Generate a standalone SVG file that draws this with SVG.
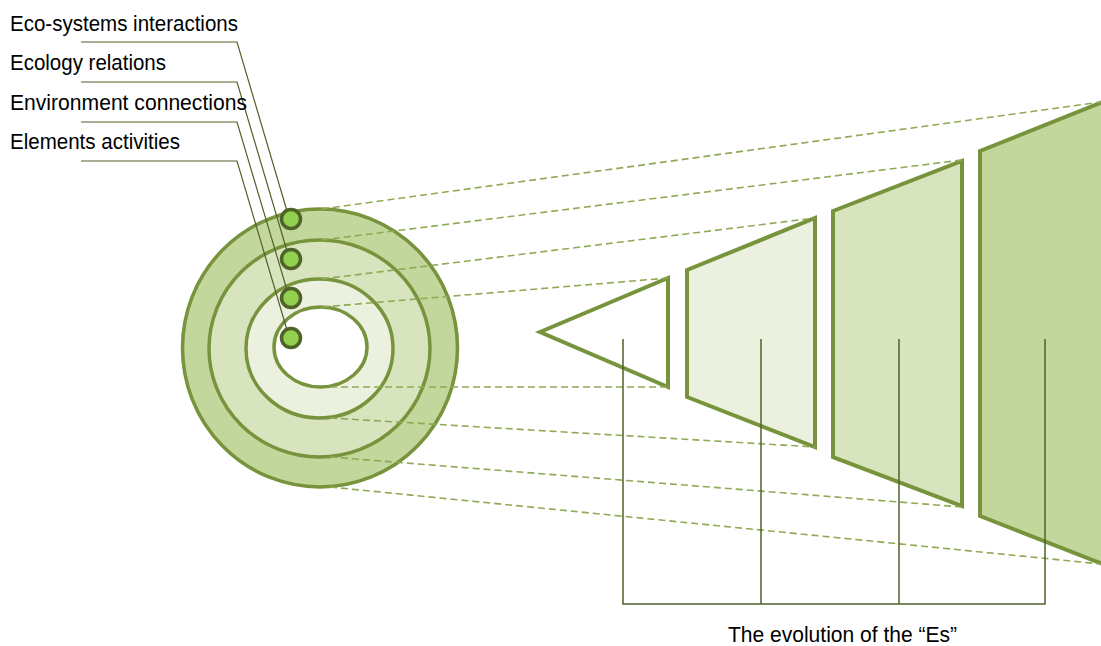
<svg xmlns="http://www.w3.org/2000/svg" width="1101" height="646" viewBox="0 0 1101 646">
<style>
.lbl{font-family:"Liberation Sans",Arial,sans-serif;font-size:21.5px;fill:#000}
.shape{stroke:#77933C;stroke-width:4;stroke-linejoin:miter}
.ring{stroke:#77933C;stroke-width:3.5}
.dash{stroke:#8FAA55;stroke-width:1.6;stroke-dasharray:7 4;fill:none}
.lead{stroke:#4F6228;stroke-width:1.2;fill:none}
.brk{stroke:#4F6228;stroke-width:1.5;fill:none}
.dot{fill:#92D050;stroke:#4F6228;stroke-width:3.5}
</style>
<rect width="1101" height="646" fill="#fff"/>
<g id="shapes">
<g id="triangle"><polygon class="shape" points="540,332 668,278 668,387" fill="#fff"/></g>
<g id="trap1"><polygon class="shape" points="687,270 815,218 815,447 687,397" fill="#EBF1DE"/></g>
<g id="trap2"><polygon class="shape" points="833,211 962,161 962,506 833,457" fill="#D7E4BD"/></g>
<g id="trap3"><polygon class="shape" points="980,151 1110,99 1110,567 980,516" fill="#C3D69B"/></g>
</g>
<g id="circles">
<ellipse class="ring" cx="320" cy="348" rx="137.5" ry="139" fill="#C3D69B"/>
<ellipse class="ring" cx="319.5" cy="348.5" rx="110.5" ry="108.5" fill="#D7E4BD"/>
<ellipse class="ring" cx="319.5" cy="348.5" rx="73.5" ry="69.5" fill="#EBF1DE"/>
<ellipse class="ring" cx="320.5" cy="347" rx="46.5" ry="40" fill="#fff"/>
</g>
<g id="connectors">
<line class="dash" x1="322" y1="209" x2="1101" y2="102"/>
<line class="dash" x1="322" y1="240" x2="962" y2="160"/>
<line class="dash" x1="322" y1="279" x2="815" y2="218"/>
<line class="dash" x1="322" y1="307" x2="668" y2="278"/>
<line class="dash" x1="330" y1="387" x2="668" y2="387"/>
<line class="dash" x1="330" y1="418" x2="815" y2="447"/>
<line class="dash" x1="330" y1="457" x2="962" y2="507"/>
<line class="dash" x1="330" y1="487" x2="1101" y2="564"/>
<polyline class="lead" points="81,42 237,42 287,211"/>
<polyline class="lead" points="81,82 237,82 287,251"/>
<polyline class="lead" points="81,122 237,122 287,290"/>
<polyline class="lead" points="81,161 237,161 287,330"/>
<polyline class="brk" points="623,339 623,604 1045,604 1045,339"/>
<line class="brk" x1="761" y1="339" x2="761" y2="604"/>
<line class="brk" x1="899" y1="339" x2="899" y2="604"/>
</g>
<g id="dots">
<circle class="dot" cx="291" cy="219" r="9.5"/>
<circle class="dot" cx="291" cy="259" r="9.5"/>
<circle class="dot" cx="291" cy="298" r="9.5"/>
<circle class="dot" cx="291" cy="338" r="9.5"/>
</g>
<g id="labels">
<text class="lbl" x="10" y="31" textLength="228" lengthAdjust="spacingAndGlyphs">Eco-systems interactions</text>
<text class="lbl" x="10" y="70" textLength="156" lengthAdjust="spacingAndGlyphs">Ecology relations</text>
<text class="lbl" x="10" y="110" textLength="237" lengthAdjust="spacingAndGlyphs">Environment connections</text>
<text class="lbl" x="10" y="149" textLength="170" lengthAdjust="spacingAndGlyphs">Elements activities</text>
<text class="lbl" x="728" y="642" textLength="229" lengthAdjust="spacingAndGlyphs">The evolution of the “Es”</text>
</g>
</svg>
